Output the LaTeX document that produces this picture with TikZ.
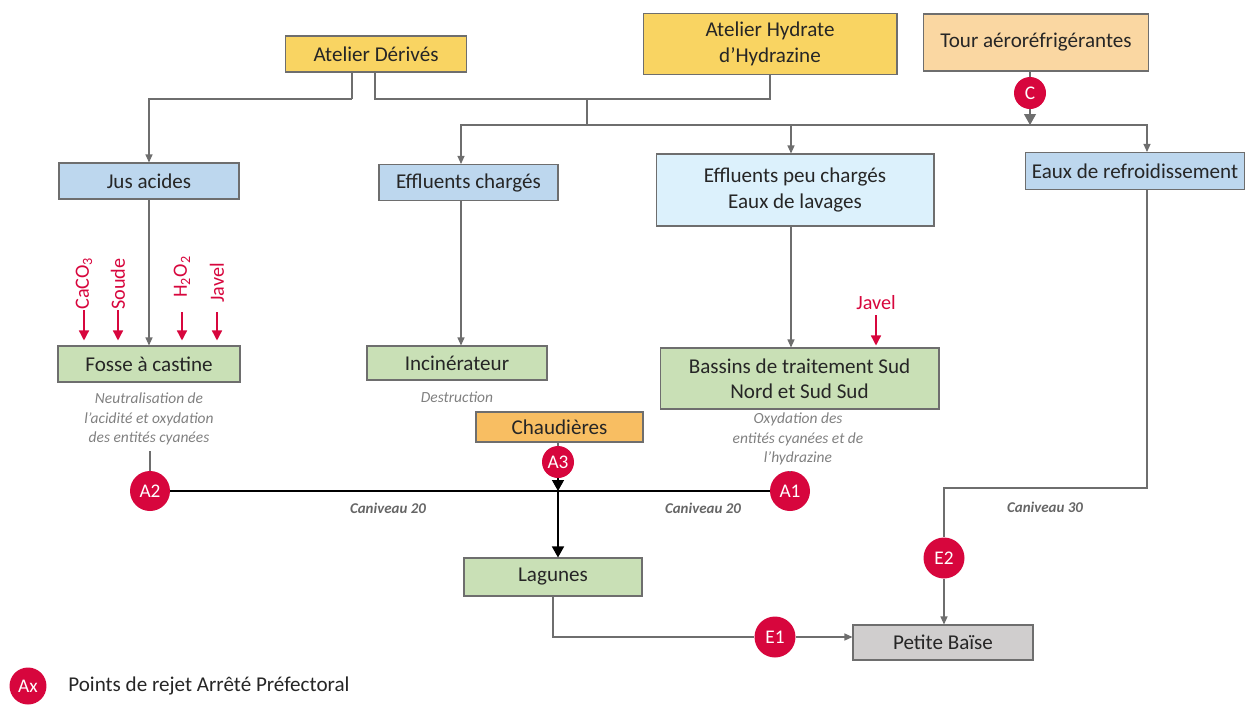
\documentclass[tikz,border=0pt]{standalone}
\usepackage{fontspec}
\setmainfont{Carlito}
\usetikzlibrary{arrows.meta}

\definecolor{jaune}{HTML}{F9D462}
\definecolor{peche}{HTML}{FAD7A2}
\definecolor{orangeb}{HTML}{F8BE62}
\definecolor{bleu}{HTML}{BDD7EE}
\definecolor{cyanb}{HTML}{DCF1FC}
\definecolor{vert}{HTML}{C9E0B6}
\definecolor{gris}{HTML}{D0CECE}
\definecolor{rouge}{HTML}{D7063D}
\definecolor{trait}{HTML}{6E6E6E}

\begin{document}
\begin{tikzpicture}[x=0.02cm,y=-0.02cm,
  box/.style={draw=trait,line width=0.6pt,minimum height=0.72cm,inner sep=2pt,align=center,text=black!85,font=\fontsize{12}{14.5}\selectfont},
  rejet/.style={circle,fill=rouge,text=white,minimum size=0.8cm,inner sep=0pt,font=\fontsize{11}{13}\selectfont},
  note/.style={align=center,text=gray,font=\fontsize{8.8}{11}\selectfont\itshape},
  canal/.style={text=black!60,font=\fontsize{8.5}{10}\selectfont\bfseries\itshape},
  reactif/.style={text=rouge,inner sep=0pt,font=\fontsize{11.5}{13}\selectfont},
  flow/.style={draw=trait,line width=0.6pt},
  main/.style={draw=black,line width=0.8pt},
  tip/.style={-{Triangle[length=0.16cm,width=0.14cm]}},
  bigtip/.style={-{Triangle[length=0.22cm,width=0.24cm]}},
  redtip/.style={draw=rouge,line width=0.8pt,-{Triangle[length=0.2cm,width=0.2cm]}}]

\useasboundingbox (0,0) rectangle (1245,704);

% sources
\node[box,fill=jaune,minimum width=3.62cm] (derives) at (376,54) {Atelier Dérivés};
\node[box,fill=jaune,minimum width=5.08cm,minimum height=1.22cm] (hydrate) at (770,44) {Atelier Hydrate\\d’Hydrazine};
\node[box,fill=peche,minimum width=4.5cm,minimum height=1.14cm] (tour) at (1036,42.5) {Tour aéroréfrigérantes};
\node[rejet,minimum size=0.64cm] (C) at (1030,93) {C};

\coordinate (dl) at (352,99);
\coordinate (dr) at (375,99);
\coordinate (split) at (587,99);
\coordinate (bus) at (587,125);
\coordinate (colB) at (461,125);
\coordinate (colC) at (791,125);
\coordinate (colD) at (1147,125);

% effluents
\node[box,fill=bleu,minimum width=3.6cm] (jus) at (149,181) {Jus acides};
\node[box,fill=bleu,minimum width=3.58cm] (effch) at (468.5,182.5) {Effluents chargés};
\node[box,fill=cyanb,minimum width=5.56cm,minimum height=1.44cm] (effpeu) at (795,190) {Effluents peu chargés\\Eaux de lavages};
\node[box,fill=bleu,minimum width=4.4cm,minimum height=0.74cm] (eaux) at (1135,171) {Eaux de refroidissement};

% traitements
\node[box,fill=vert,minimum width=3.64cm] (fosse) at (149,364) {Fosse à castine};
\node[box,fill=vert,minimum width=3.6cm,minimum height=0.68cm] (incin) at (457,363) {Incinérateur};
\node[box,fill=vert,minimum width=5.58cm,minimum height=1.22cm] (bassins) at (799.5,378.5) {Bassins de traitement Sud\\Nord et Sud Sud};
\node[box,fill=orangeb,minimum width=3.34cm,minimum height=0.6cm] (chaud) at (559.5,427) {Chaudières};
\node[box,fill=vert,minimum width=3.56cm,minimum height=0.76cm] (lagunes) at (553,577) {Lagunes};
\node[box,fill=gris,minimum width=3.6cm,minimum height=0.7cm] (petite) at (943,642.5) {Petite Baïse};

\node[note] (fnote) at (149,419) {Neutralisation de\\l’acidité et oxydation\\des entités cyanées};
\node[note] (inote) at (457,397) {Destruction};
\node[note] (bnote) at (798,439) {Oxydation des\\entités cyanées et de\\l’hydrazine};

% points de rejet
\node[rejet] (A2) at (150,491) {A2};
\node[rejet] (A1) at (790,491) {A1};
\node[rejet,minimum size=0.64cm] (A3) at (558,462) {A3};
\node[rejet,minimum size=0.82cm] (E2) at (944,558) {E2};
\node[rejet,minimum size=0.82cm] (E1) at (775,637) {E1};
\coordinate (jn) at (558,491);
\coordinate (c30) at (1147,488);

\node[canal] (can1) at (388,508) {Caniveau 20};
\node[canal] (can2) at (703,508) {Caniveau 20};
\node[canal] (can3) at (1045,507) {Caniveau 30};

% reactifs
\node[reactif,rotate=90,anchor=west] (caco) at (84,310) {CaCO\textsubscript{3}};
\node[reactif,rotate=90,anchor=west] (soude) at (118,310) {Soude};
\node[reactif,rotate=90,anchor=west] (hdeux) at (182,298) {H\textsubscript{2}O\textsubscript{2}};
\node[reactif,rotate=90,anchor=west] (javelA) at (217,303) {Javel};
\node[reactif] (javelB) at (876,303) {Javel};

% liaisons
\draw[flow] (dl |- derives.south) -- (dl);
\draw[flow,tip] (dl) -| (jus.north);
\draw[flow] (dr |- derives.south) -- (dr) -| (hydrate.south);
\draw[flow] (split) -- (bus);
\draw[flow,tip] (bus) -- (colB) -- (colB |- effch.north);
\draw[flow,tip] (bus) -- (colD) -- (colD |- eaux.north);
\draw[flow,tip] (colC) -- (colC |- effpeu.north);
\draw[flow] (C |- tour.south) -- (C);
\draw[flow,bigtip] (C) -- (C |- bus);

\draw[flow,tip] (jus) -- (fosse);
\draw[flow,tip] (colB |- effch.south) -- (colB |- incin.north);
\draw[flow,tip] (colC |- effpeu.south) -- (colC |- bassins.north);
\draw[flow] (colD |- eaux.south) -- (c30) -| (E2);
\draw[flow,tip] (E2) -- (E2 |- petite.north);

\draw[redtip] (caco.west) -- ([yshift=0.1cm]caco.west |- fosse.north);
\draw[redtip] (soude.west) -- ([yshift=0.1cm]soude.west |- fosse.north);
\draw[redtip] ([yshift=-0.28cm]hdeux.west) -- ([yshift=0.1cm]hdeux.west |- fosse.north);
\draw[redtip] ([yshift=-0.18cm]javelA.west) -- ([yshift=0.1cm]javelA.west |- fosse.north);
\draw[redtip] ([yshift=-0.1cm]javelB.south) -- ([yshift=0.04cm]javelB.south |- bassins.north);

\draw[flow] (A2 |- fnote.south) -- (A2);
\draw[flow] (A1 |- bnote.south) -- (A1);
\draw[flow] (A3 |- chaud.south) -- (A3);
\draw[main] (A2) -- (A1);
\draw[main,bigtip] (A3) -- (jn);
\draw[main,bigtip] (jn) -- (jn |- lagunes.north);
\draw[flow] (lagunes.south) |- (E1);
\draw[flow,tip] (E1) -- (E1 -| petite.west);

% legende
\node[rejet,minimum size=0.74cm] (ax) at (28,686) {Ax};
\node[anchor=west,inner sep=0pt,text=black!85,font=\fontsize{12}{14}\selectfont] (legende) at (68,686) {Points de rejet Arrêté Préfectoral};

\end{tikzpicture}
\end{document}
